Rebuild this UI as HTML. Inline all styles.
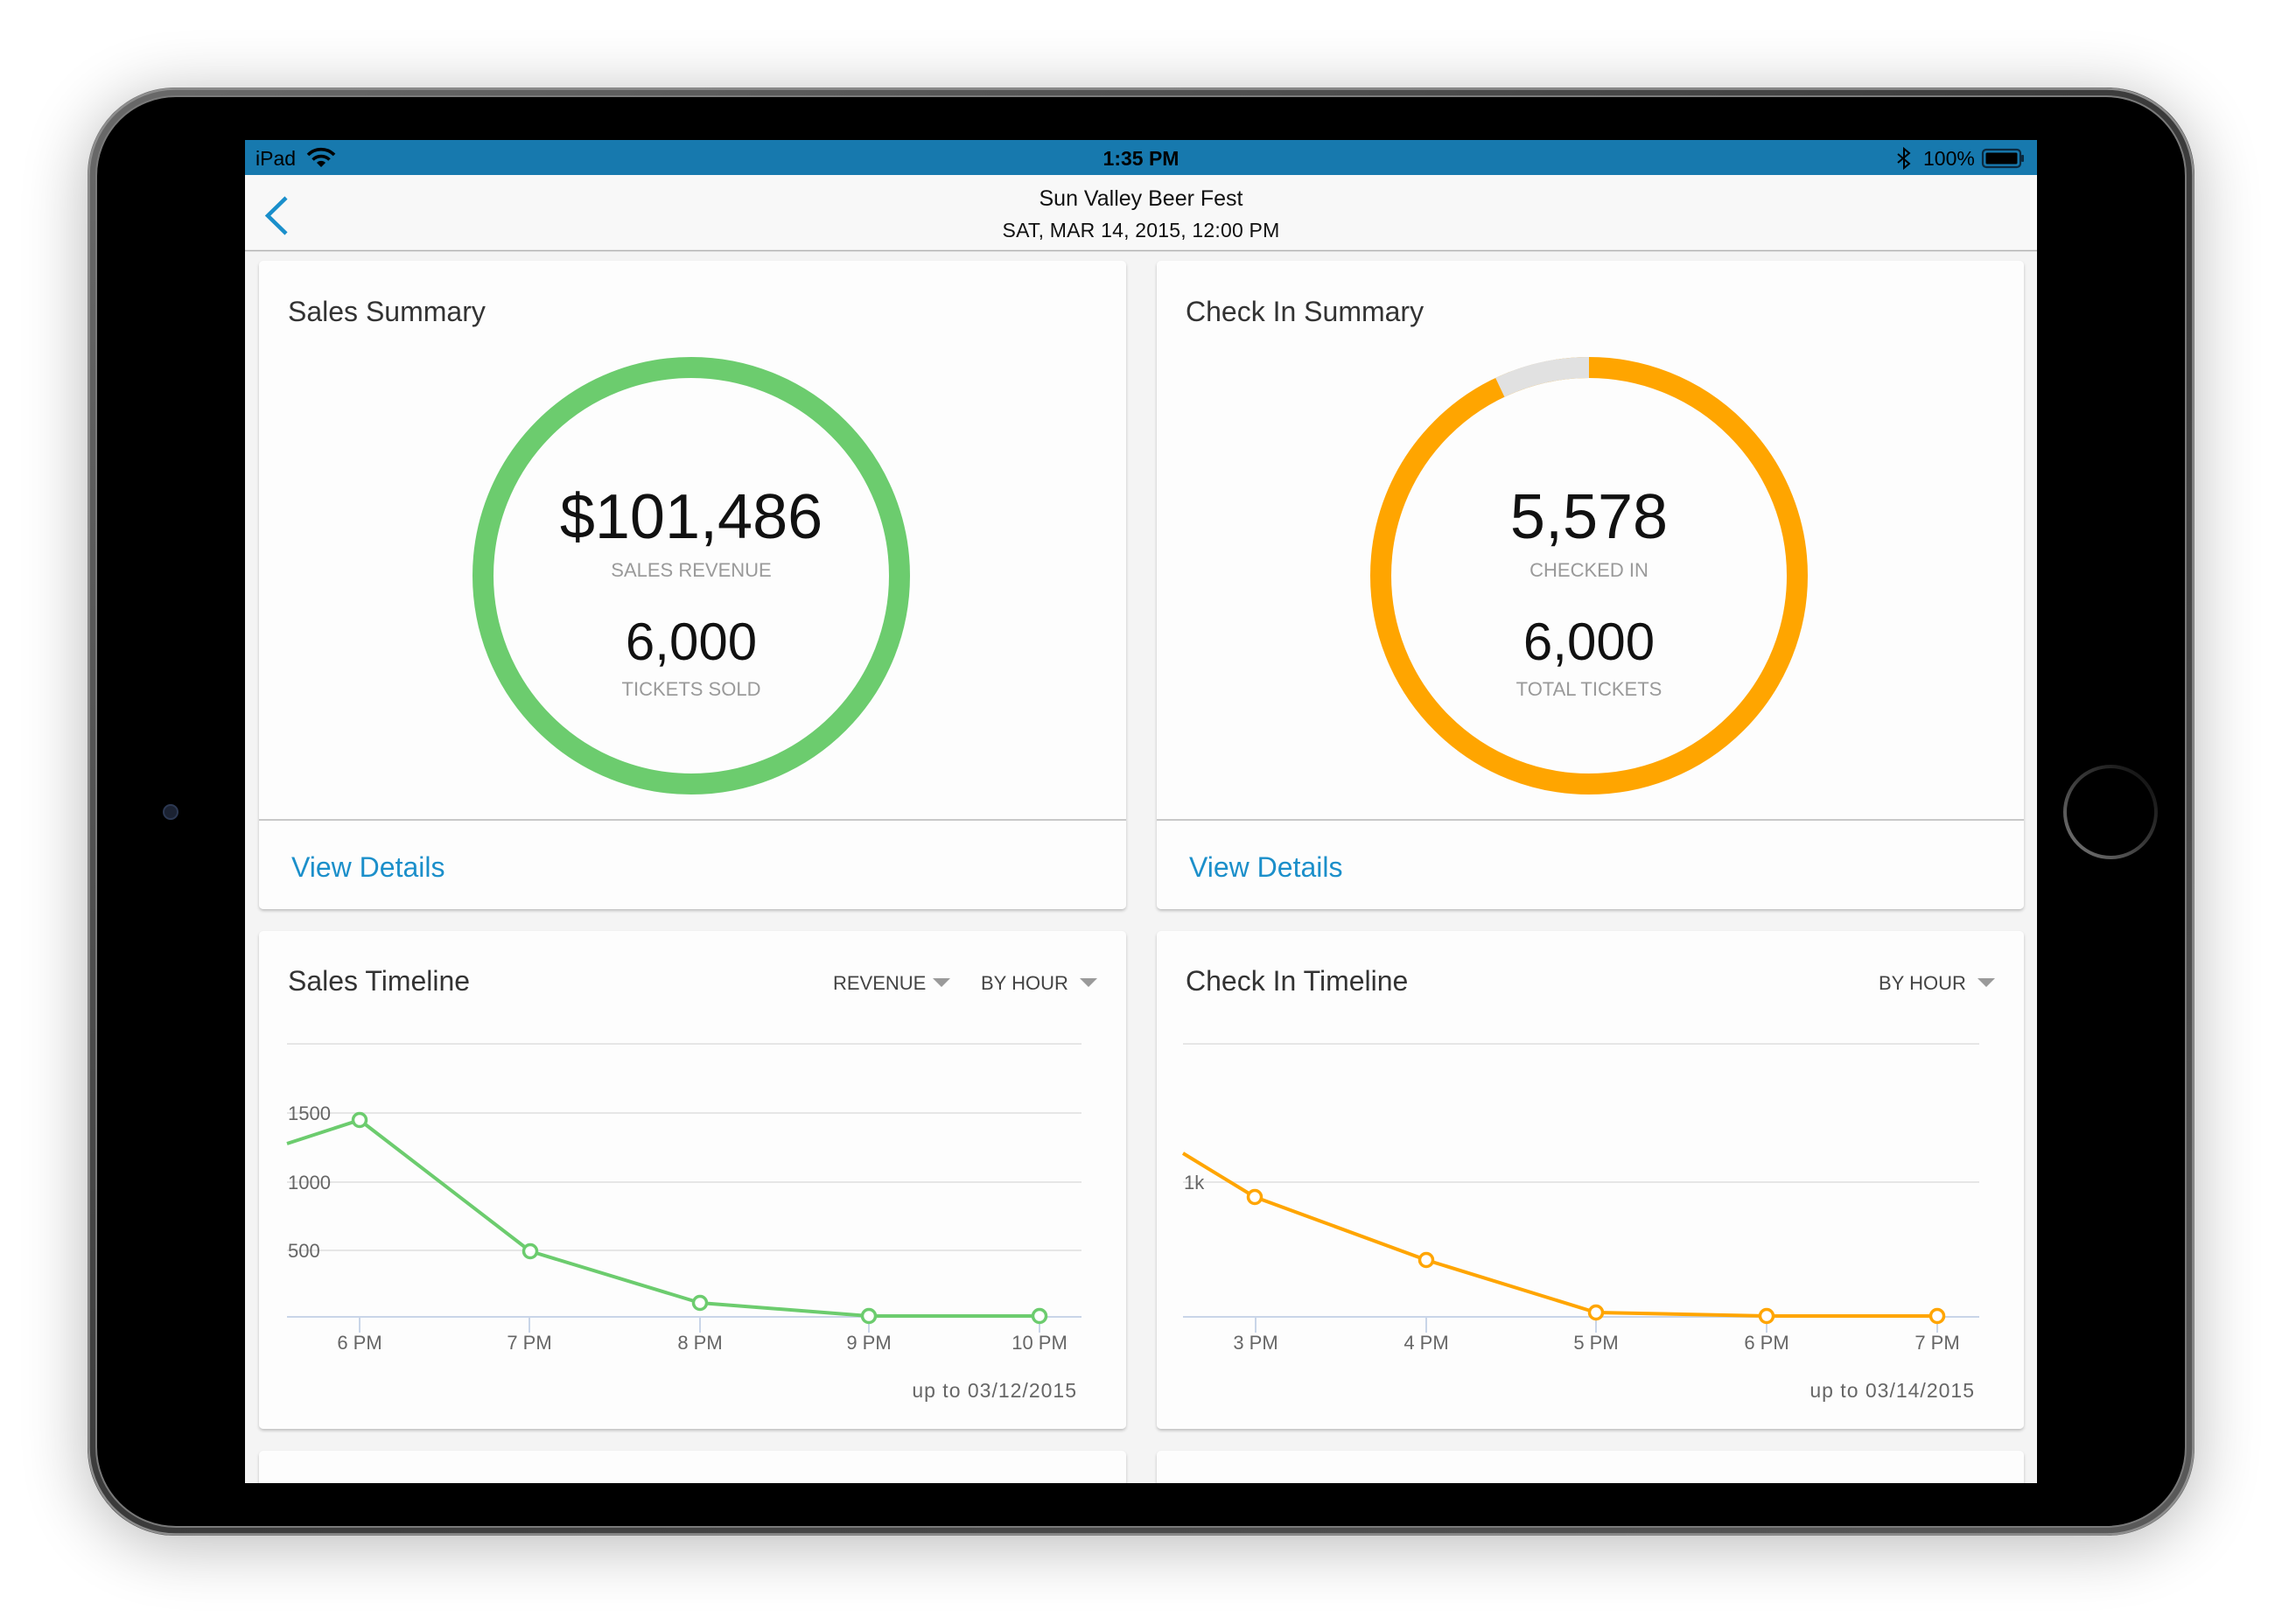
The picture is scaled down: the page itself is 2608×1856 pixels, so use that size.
<!DOCTYPE html>
<html>
<head>
<meta charset="utf-8">
<style>
html,body{margin:0;padding:0;background:#fff;}
svg{display:block;}
</style>
</head>
<body>
<svg width="2608" height="1856" viewBox="0 0 2608 1856" xmlns="http://www.w3.org/2000/svg" font-family="'Liberation Sans', Arial, sans-serif">
<defs>
  <filter id="devsh" x="-20%" y="-20%" width="140%" height="140%">
    <feGaussianBlur stdDeviation="38"/>
  </filter>
  <filter id="cardsh" x="-5%" y="-5%" width="110%" height="110%">
    <feDropShadow dx="0" dy="2" stdDeviation="1.6" flood-color="#000" flood-opacity="0.22"/>
  </filter>
  <clipPath id="scr"><rect x="280" y="160" width="2048" height="1535"/></clipPath>
  <linearGradient id="rim" x1="0" y1="0" x2="1" y2="1">
    <stop offset="0" stop-color="#6a6a6a"/>
    <stop offset="0.5" stop-color="#3a3a3a"/>
    <stop offset="1" stop-color="#5a5a5a"/>
  </linearGradient>
  <linearGradient id="home" x1="1" y1="0" x2="0" y2="1">
    <stop offset="0" stop-color="#0a0a0a"/>
    <stop offset="0.5" stop-color="#3a3a3a"/>
    <stop offset="1" stop-color="#7a7a7a"/>
  </linearGradient>
</defs>

<rect width="2608" height="1856" fill="#ffffff"/>

<!-- device shadow -->
<rect x="100" y="110" width="2408" height="1655" rx="100" fill="#000" opacity="0.28" filter="url(#devsh)"/>

<!-- device body -->
<rect x="100" y="100" width="2408" height="1655" rx="100" fill="url(#rim)"/>
<rect x="101.5" y="101.5" width="2405" height="1652" rx="99" fill="none" stroke="#8e8e8e" stroke-width="2.5"/>
<rect x="110" y="110" width="2388" height="1635" rx="91" fill="#000" stroke="#7a7a7a" stroke-width="2"/>

<!-- camera & home -->
<circle cx="195" cy="928" r="8" fill="#1b2232" stroke="#2c3852" stroke-width="2"/>
<circle cx="2412" cy="928" r="52" fill="none" stroke="url(#home)" stroke-width="4"/>

<g clip-path="url(#scr)">
<!-- screen -->
<rect x="280" y="160" width="2048" height="1535" fill="#f4f4f4"/>

<!-- status bar -->
<rect x="280" y="160" width="2048" height="40" fill="#1779ae"/>
<text x="292" y="189" font-size="23" fill="#000">iPad</text>
<g transform="translate(367,191)" fill="none" stroke="#000" stroke-linecap="butt">
  <path d="M-15,-14 A21,21 0 0 1 15,-14" stroke-width="3.6"/>
  <path d="M-9.5,-8.5 A13.5,13.5 0 0 1 9.5,-8.5" stroke-width="3.6"/>
  <path d="M0,0 L-5,-5 A7,7 0 0 1 5,-5 Z" fill="#000" stroke="none"/>
</g>
<text x="1304" y="189" font-size="23" font-weight="bold" fill="#000" text-anchor="middle">1:35 PM</text>
<path d="M2169,176 L2182,187 L2176,192 L2176,170 L2182,175 L2169,186" fill="none" stroke="#000" stroke-width="2"/>
<text x="2198" y="189" font-size="23" fill="#000">100%</text>
<rect x="2266" y="171" width="43" height="20" rx="4" fill="none" stroke="#0b2a40" stroke-width="2.2"/>
<rect x="2269.5" y="174.5" width="36" height="13" rx="1.5" fill="#000"/>
<rect x="2310" y="177" width="3" height="8" rx="1" fill="#0b2a40"/>

<!-- nav bar -->
<rect x="280" y="200" width="2048" height="86" fill="#f8f8f8"/>
<line x1="280" y1="286.5" x2="2328" y2="286.5" stroke="#b2b2b2" stroke-width="1.5"/>
<polyline points="327,226 306,246.5 327,267" fill="none" stroke="#1a8fcb" stroke-width="4.5"/>
<text x="1304" y="235" font-size="25" fill="#111" text-anchor="middle">Sun Valley Beer Fest</text>
<text x="1304" y="271" font-size="23" fill="#111" text-anchor="middle" letter-spacing="0.2">SAT, MAR 14, 2015, 12:00 PM</text>

<!-- cards -->
<g filter="url(#cardsh)" fill="#fdfdfd">
  <rect x="296" y="298" width="991" height="741" rx="5"/>
  <rect x="1322" y="298" width="991" height="741" rx="5"/>
  <rect x="296" y="1064" width="991" height="569" rx="5"/>
  <rect x="1322" y="1064" width="991" height="569" rx="5"/>
  <rect x="296" y="1658" width="991" height="80" rx="5"/>
  <rect x="1322" y="1658" width="991" height="80" rx="5"/>
</g>

<!-- Card 1: Sales Summary -->
<text x="329" y="367" font-size="32" fill="#333">Sales Summary</text>
<circle cx="790" cy="658" r="238" fill="none" stroke="#6ccc6e" stroke-width="24"/>
<text x="790" y="615" font-size="72" fill="#111" text-anchor="middle">$101,486</text>
<text x="790" y="659" font-size="22" fill="#9a9a9a" text-anchor="middle">SALES REVENUE</text>
<text x="790" y="754" font-size="60" fill="#111" text-anchor="middle">6,000</text>
<text x="790" y="795" font-size="22" fill="#9a9a9a" text-anchor="middle">TICKETS SOLD</text>
<line x1="296" y1="937" x2="1287" y2="937" stroke="#c8c8c8" stroke-width="2"/>
<text x="333" y="1002" font-size="32" fill="#1b8fca">View Details</text>

<!-- Card 2: Check In Summary -->
<text x="1355" y="367" font-size="32" fill="#333">Check In Summary</text>
<circle cx="1816" cy="658" r="238" fill="none" stroke="#ffa500" stroke-width="24"/>
<path d="M1816,420 A238,238 0 0 0 1714.3,442.8" fill="none" stroke="#e1e1e1" stroke-width="24"/>
<text x="1816" y="615" font-size="72" fill="#111" text-anchor="middle">5,578</text>
<text x="1816" y="659" font-size="22" fill="#9a9a9a" text-anchor="middle">CHECKED IN</text>
<text x="1816" y="754" font-size="60" fill="#111" text-anchor="middle">6,000</text>
<text x="1816" y="795" font-size="22" fill="#9a9a9a" text-anchor="middle">TOTAL TICKETS</text>
<line x1="1322" y1="937" x2="2313" y2="937" stroke="#c8c8c8" stroke-width="2"/>
<text x="1359" y="1002" font-size="32" fill="#1b8fca">View Details</text>

<!-- Card 3: Sales Timeline -->
<text x="329" y="1132" font-size="32" fill="#333">Sales Timeline</text>
<text x="952" y="1131" font-size="22" fill="#444">REVENUE</text>
<polygon points="1066,1118 1086,1118 1076,1128" fill="#9a9a9a"/>
<text x="1121" y="1131" font-size="22" fill="#444">BY HOUR</text>
<polygon points="1234,1118 1254,1118 1244,1128" fill="#9a9a9a"/>
<g stroke="#e6e6e6" stroke-width="2">
  <line x1="328" y1="1193" x2="1236" y2="1193"/>
  <line x1="328" y1="1272" x2="1236" y2="1272"/>
  <line x1="328" y1="1351" x2="1236" y2="1351"/>
  <line x1="328" y1="1429" x2="1236" y2="1429"/>
</g>
<g stroke="#c9d5e8" stroke-width="2">
  <line x1="328" y1="1505" x2="1236" y2="1505"/>
  <line x1="411" y1="1505" x2="411" y2="1523"/>
  <line x1="605" y1="1505" x2="605" y2="1523"/>
  <line x1="800" y1="1505" x2="800" y2="1523"/>
  <line x1="993" y1="1505" x2="993" y2="1523"/>
  <line x1="1188" y1="1505" x2="1188" y2="1523"/>
</g>
<g font-size="22" fill="#666">
  <text x="329" y="1280">1500</text>
  <text x="329" y="1359">1000</text>
  <text x="329" y="1437">500</text>
</g>
<g font-size="22" fill="#666" text-anchor="middle">
  <text x="411" y="1542">6 PM</text>
  <text x="605" y="1542">7 PM</text>
  <text x="800" y="1542">8 PM</text>
  <text x="993" y="1542">9 PM</text>
  <text x="1188" y="1542">10 PM</text>
</g>
<polyline points="328,1307 411,1280 606,1430 800,1489 993,1504 1188,1504" fill="none" stroke="#6ccc6e" stroke-width="4" stroke-linejoin="round"/>
<g fill="#fff" stroke="#6ccc6e" stroke-width="3.5">
  <circle cx="411" cy="1280" r="7.5"/>
  <circle cx="606" cy="1430" r="7.5"/>
  <circle cx="800" cy="1489" r="7.5"/>
  <circle cx="993" cy="1504" r="7.5"/>
  <circle cx="1188" cy="1504" r="7.5"/>
</g>
<text x="1231" y="1597" font-size="23" fill="#666" text-anchor="end" letter-spacing="1">up to 03/12/2015</text>

<!-- Card 4: Check In Timeline -->
<text x="1355" y="1132" font-size="32" fill="#333">Check In Timeline</text>
<text x="2147" y="1131" font-size="22" fill="#444">BY HOUR</text>
<polygon points="2260,1118 2280,1118 2270,1128" fill="#9a9a9a"/>
<g stroke="#e6e6e6" stroke-width="2">
  <line x1="1352" y1="1193" x2="2262" y2="1193"/>
  <line x1="1352" y1="1351" x2="2262" y2="1351"/>
</g>
<g stroke="#c9d5e8" stroke-width="2">
  <line x1="1352" y1="1505" x2="2262" y2="1505"/>
  <line x1="1435" y1="1505" x2="1435" y2="1523"/>
  <line x1="1630" y1="1505" x2="1630" y2="1523"/>
  <line x1="1824" y1="1505" x2="1824" y2="1523"/>
  <line x1="2019" y1="1505" x2="2019" y2="1523"/>
  <line x1="2214" y1="1505" x2="2214" y2="1523"/>
</g>
<text x="1353" y="1359" font-size="22" fill="#666">1k</text>
<g font-size="22" fill="#666" text-anchor="middle">
  <text x="1435" y="1542">3 PM</text>
  <text x="1630" y="1542">4 PM</text>
  <text x="1824" y="1542">5 PM</text>
  <text x="2019" y="1542">6 PM</text>
  <text x="2214" y="1542">7 PM</text>
</g>
<polyline points="1352,1318 1434,1368 1630,1440 1824,1500 2019,1504 2214,1504" fill="none" stroke="#ffa500" stroke-width="4" stroke-linejoin="round"/>
<g fill="#fff" stroke="#ffa500" stroke-width="3.5">
  <circle cx="1434" cy="1368" r="7.5"/>
  <circle cx="1630" cy="1440" r="7.5"/>
  <circle cx="1824" cy="1500" r="7.5"/>
  <circle cx="2019" cy="1504" r="7.5"/>
  <circle cx="2214" cy="1504" r="7.5"/>
</g>
<text x="2257" y="1597" font-size="23" fill="#666" text-anchor="end" letter-spacing="1">up to 03/14/2015</text>
</g>

</svg>
</body>
</html>
